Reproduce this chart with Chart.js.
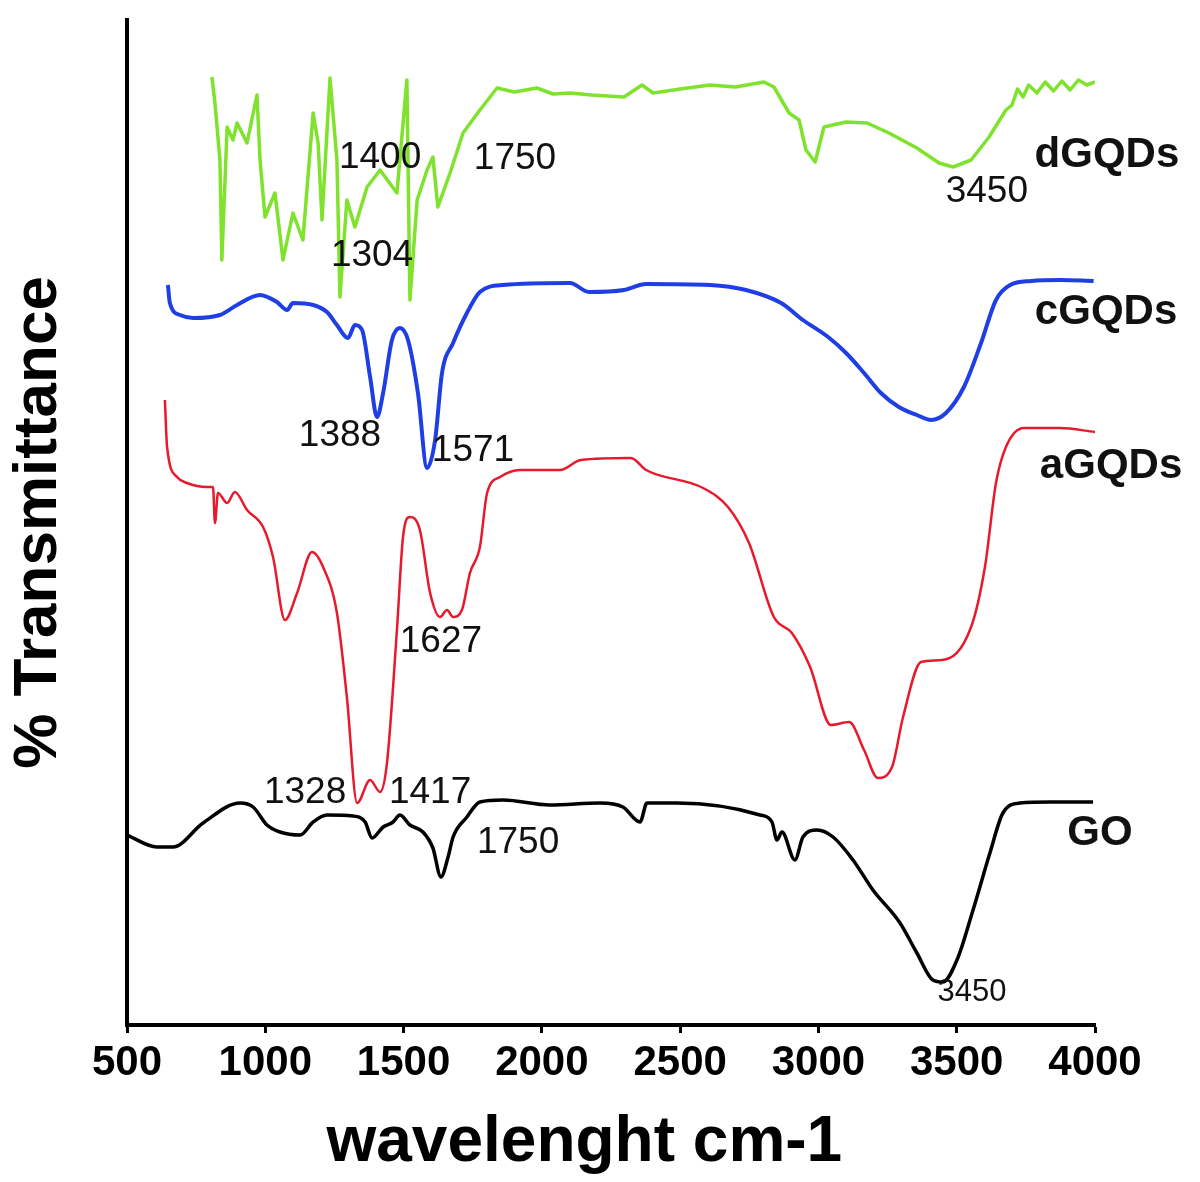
<!DOCTYPE html>
<html>
<head>
<meta charset="utf-8">
<title>FTIR GO / GQDs</title>
<script src="https://cdn.jsdelivr.net/npm/chart.js@4.4.1/dist/chart.umd.min.js"></script>
<style>
  html, body { margin: 0; padding: 0; background: #fff; }
  #wrap { width: 1200px; height: 1182px; }
</style>
</head>
<body>
<div id="wrap"><canvas id="ftir" width="1200" height="1182"></canvas></div>
<script>
// wavenumber (cm-1) and offset transmittance (arbitrary units, stacked)
const goX = [500, 608, 666, 775, 909, 956, 1006, 1053, 1126, 1173, 1223, 1317, 1361, 1386, 1426, 1462, 1487, 1523, 1570, 1606, 1635, 1661, 1679, 1729, 1776, 1860, 2029, 2210, 2293, 2355, 2380, 2489, 2789, 2832, 2850, 2868, 2915, 2944, 2995, 3053, 3125, 3197, 3295, 3356, 3414, 3450, 3501, 3559, 3620, 3667, 3729, 3837, 3993];
const goY = [19.0, 17.8, 17.8, 20.2, 22.2, 21.8, 20.0, 19.3, 19.0, 20.3, 21.0, 20.9, 20.3, 18.7, 19.8, 20.3, 21.0, 20.0, 19.3, 17.7, 14.8, 16.8, 18.8, 20.8, 22.3, 22.5, 22.0, 22.2, 21.8, 20.3, 22.2, 22.2, 21.0, 20.3, 18.5, 19.3, 16.5, 18.8, 19.5, 18.8, 16.5, 13.5, 10.2, 7.2, 4.5, 4.3, 6.5, 11.5, 17.2, 21.2, 22.2, 22.3, 22.3];

const aX = [637, 645, 681, 717, 789, 811, 818, 829, 862, 890, 934, 992, 1028, 1071, 1115, 1169, 1209, 1259, 1295, 1332, 1379, 1415, 1440, 1476, 1498, 1523, 1559, 1596, 1632, 1657, 1679, 1711, 1740, 1776, 1802, 1849, 1921, 2066, 2141, 2322, 2377, 2583, 2673, 2749, 2839, 2904, 2970, 3045, 3111, 3165, 3215, 3266, 3306, 3371, 3447, 3552, 3602, 3642, 3678, 3743, 3873, 4000];
const aY = [62.5, 57.8, 54.8, 54.2, 53.8, 53.8, 50.2, 53.2, 52.2, 53.3, 51.5, 49.8, 46.8, 40.5, 43.2, 47.3, 45.8, 41.2, 32.8, 22.2, 24.5, 23.3, 26.2, 39.5, 48.8, 50.8, 49.5, 43.2, 40.8, 41.5, 40.8, 41.5, 45.2, 47.8, 53.2, 54.8, 55.5, 55.5, 56.5, 56.7, 55.5, 53.7, 51.8, 48.2, 40.8, 39.2, 35.8, 30.0, 30.3, 27.5, 24.7, 25.8, 30.8, 36.3, 36.5, 39.8, 45.8, 54.2, 57.8, 59.7, 59.7, 59.3];

const cX = [648, 655, 692, 739, 836, 898, 981, 1042, 1079, 1100, 1173, 1223, 1259, 1299, 1324, 1350, 1379, 1404, 1426, 1458, 1487, 1516, 1552, 1585, 1614, 1639, 1679, 1729, 1776, 1860, 2102, 2170, 2297, 2377, 2608, 2738, 2865, 2944, 3035, 3100, 3165, 3226, 3291, 3356, 3407, 3461, 3526, 3588, 3642, 3693, 3769, 3873, 3995];
const cY = [74.0, 72.2, 71.0, 70.7, 71.0, 72.0, 73.0, 72.3, 71.5, 72.2, 72.0, 71.3, 70.0, 68.7, 70.0, 69.5, 64.8, 60.8, 63.2, 68.5, 69.7, 68.5, 63.2, 55.7, 58.5, 65.2, 68.2, 71.2, 73.3, 74.0, 74.2, 73.3, 73.5, 74.1, 74.0, 73.5, 72.2, 70.5, 68.8, 67.2, 65.2, 63.2, 61.8, 61.0, 60.5, 61.2, 63.8, 68.2, 72.5, 74.0, 74.4, 74.5, 74.4];

const dX = [807, 818, 836, 843, 862, 883, 898, 934, 970, 981, 999, 1035, 1064, 1100, 1136, 1173, 1191, 1205, 1234, 1259, 1270, 1295, 1324, 1368, 1415, 1476, 1512, 1523, 1549, 1585, 1606, 1624, 1668, 1715, 1776, 1838, 1900, 1982, 2040, 2102, 2180, 2297, 2362, 2402, 2500, 2608, 2700, 2803, 2839, 2894, 2930, 2955, 2988, 3020, 3100, 3176, 3255, 3356, 3436, 3487, 3552, 3617, 3678, 3700, 3720, 3740, 3760, 3790, 3820, 3850, 3880, 3910, 3940, 3970, 4000];
const dY = [94.8, 92.2, 86.5, 76.5, 89.8, 88.5, 90.2, 88.2, 93.0, 86.5, 80.8, 83.2, 76.5, 81.2, 78.5, 91.2, 88.2, 80.5, 94.7, 86.5, 72.8, 82.5, 79.8, 83.8, 85.5, 83.2, 94.5, 72.5, 82.5, 85.5, 86.8, 81.8, 85.2, 89.2, 91.5, 93.7, 93.3, 93.7, 93.1, 93.2, 93.0, 92.8, 94.0, 93.2, 93.6, 94.0, 93.8, 94.3, 93.8, 91.2, 90.5, 87.5, 86.3, 89.8, 90.3, 90.2, 89.2, 87.7, 86.2, 85.8, 86.5, 88.8, 91.5, 92.0, 93.6, 92.8, 94.0, 93.2, 94.3, 93.4, 94.4, 93.5, 94.5, 94.0, 94.3];

const xTicks = [500, 1000, 1500, 2000, 2500, 3000, 3500, 4000];

// peak labels: text, wavenumber, level
const peakText = ['1400', '1750', '1304', '3450', '1388', '1571', '1627', '1328', '1417', '1750', '3450'];
const peakX = [1415, 1903, 1386, 3609, 1270, 1751, 1635, 1144, 1596, 1914, 3555];
const peakY = [86.7, 86.6, 76.9, 83.3, 58.9, 57.4, 38.3, 23.2, 23.2, 18.2, 3.3];

// sample names written at the right end of each trace
const nameText = ['dGQDs', 'cGQDs', 'aGQDs', 'GO'];
const nameX = [4043, 4040, 4058, 4018];
const nameY = [87.0, 71.3, 55.9, 19.2];

function toPoints(xs, ys) {
    return xs.map((x, i) => ({ x: x, y: ys[i] }));
}

const annotationPlugin = {
    id: 'peakLabels',
    afterDatasetsDraw(chart) {
        const ctx = chart.ctx;
        const sx = chart.scales.x, sy = chart.scales.y;
        ctx.save();
        ctx.fillStyle = '#111';
        ctx.textAlign = 'center';
        ctx.textBaseline = 'middle';
        peakText.forEach((t, i) => {
            // the GO 3450 label is printed smaller in the figure
            ctx.font = (i === peakText.length - 1 ? '31px' : '37px') + " 'Liberation Sans', Arial, sans-serif";
            ctx.fillText(t, sx.getPixelForValue(peakX[i]), sy.getPixelForValue(peakY[i]));
        });
        ctx.font = "bold 42px 'Liberation Sans', Arial, sans-serif";
        nameText.forEach((t, i) => {
            ctx.fillText(t, sx.getPixelForValue(nameX[i]), sy.getPixelForValue(nameY[i]));
        });
        ctx.restore();
    }
};

const ctx = document.getElementById('ftir').getContext('2d');
new Chart(ctx, {
    type: 'line',
    data: {
        datasets: [
            { label: 'dGQDs', data: toPoints(dX, dY), borderColor: '#7fe22c', borderWidth: 3.5, cubicInterpolationMode: 'default', tension: 0 },
            { label: 'cGQDs', data: toPoints(cX, cY), borderColor: '#1f3fe4', borderWidth: 4 },
            { label: 'aGQDs', data: toPoints(aX, aY), borderColor: '#e8192c', borderWidth: 2.5 },
            { label: 'GO', data: toPoints(goX, goY), borderColor: '#000000', borderWidth: 3.5 }
        ]
    },
    options: {
        responsive: false,
        animation: false,
        devicePixelRatio: 1,
        layout: { padding: { top: 20, right: 105, bottom: 0, left: 0 } },
        elements: {
            point: { radius: 0 },
            line: { cubicInterpolationMode: 'monotone', borderJoinStyle: 'round' }
        },
        plugins: { legend: { display: false }, tooltip: { enabled: false } },
        scales: {
            x: {
                type: 'linear',
                min: 500,
                max: 4000,
                afterBuildTicks: (scale) => { scale.ticks = xTicks.map(v => ({ value: v })); },
                afterFit: (scale) => { scale.height = 157; },
                border: { display: true, color: '#000', width: 4 },
                grid: { drawOnChartArea: false, drawTicks: true, tickLength: 8, tickWidth: 3, tickColor: '#000' },
                ticks: {
                    color: '#000',
                    padding: 5,
                    maxRotation: 0,
                    callback: (v) => String(v),
                    font: { family: "'Liberation Sans', Arial, sans-serif", size: 42, weight: 'bold' }
                },
                title: {
                    display: true,
                    text: 'wavelenght cm-1\u00a0\u00a0\u00a0',
                    color: '#000',
                    padding: { top: 0, bottom: 0 },
                    font: { family: "'Liberation Sans', Arial, sans-serif", size: 64, weight: 'bold' }
                }
            },
            y: {
                min: 0,
                max: 100.5,
                afterFit: (scale) => { scale.width = 127; },
                border: { display: true, color: '#000', width: 4 },
                grid: { display: false, drawTicks: false },
                ticks: { display: false },
                title: {
                    display: true,
                    text: '% Transmittance',
                    color: '#000',
                    padding: { top: 2, bottom: 0 },
                    font: { family: "'Liberation Sans', Arial, sans-serif", size: 62, weight: 'bold' }
                }
            }
        }
    },
    plugins: [annotationPlugin]
});
</script>
</body>
</html>
